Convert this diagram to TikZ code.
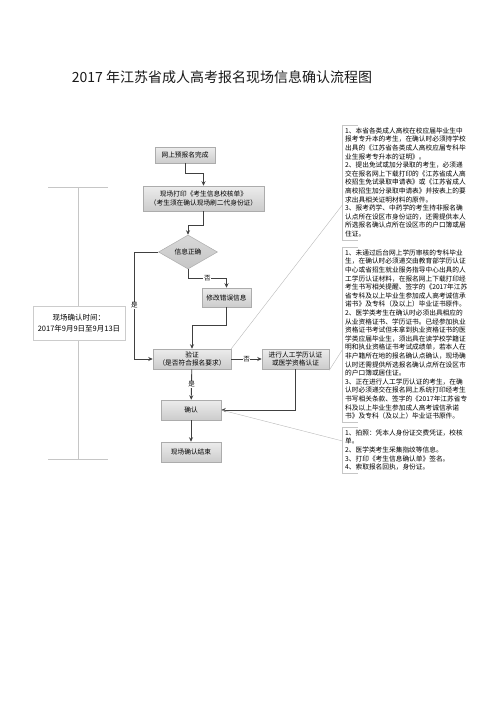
\documentclass[tikz,border=0pt]{standalone}
\usepackage{fontspec}
\setmainfont{Noto Sans CJK SC}
\usetikzlibrary{arrows.meta,positioning,shapes.geometric,shadows,calc}

\begin{document}
\begin{tikzpicture}[
    x = 1pt, y = -1pt, % one unit = one pixel, y goes down
    > = {Stealth[length=4.5pt,width=4pt]}, % arrow head style
    flow/.style = {->, draw = black!75, line width = 0.9pt},
    font = \fontsize{6.7}{8.4}\selectfont
    ]
\tikzset{
    proc/.style = {rectangle, draw = gray!65, line width = 0.5pt,
        top color = gray!15, bottom color = gray!40,
        drop shadow = {shadow xshift = 1pt, shadow yshift = -1pt, opacity = 0.3},
        align = center, inner sep = 1pt},
    decision/.style = {diamond, draw = gray!65, line width = 0.5pt,
        top color = gray!30, bottom color = gray!45,
        minimum width = 59pt, minimum height = 34pt, inner sep = 0pt},
    lbl/.style = {fill = white, inner sep = 0.6pt, font = \fontsize{6.5}{7}\selectfont},
    note/.style = {anchor = north west, align = left, inner xsep = 3pt, inner ysep = 2.5pt,
        font = \fontsize{6.7}{8.6}\selectfont},
    bracket/.style = {draw = gray!45, line width = 0.5pt},
    leader/.style = {draw = gray!55, line width = 0.4pt}
    }

    \useasboundingbox (0,0) rectangle (496,702);

    \node[font = \fontsize{14}{16}\selectfont, text = black!90] (title) at (222,77)
        {2017 年江苏省成人高考报名现场信息确认流程图};

    % flow chart
    \node[proc, minimum width = 60pt, minimum height = 16pt] (pre) at (185,155) {网上预报名完成};
    \node[proc, minimum width = 121pt, minimum height = 25pt] (print) at (203.5,198.5)
        {现场打印《考生信息校核单》\\（考生须在确认现场刷二代身份证）};
    \node[decision] (check) at (188,252) {信息正确};
    \node[proc, minimum width = 49pt, minimum height = 19pt] (fix) at (226.5,297.5) {修改错误信息};
    \node[proc, minimum width = 78pt, minimum height = 20pt] (verify) at (192,359)
        {验证\\（是否符合报名要求）};
    \node[proc, minimum width = 67pt, minimum height = 20pt] (manual) at (295.5,359)
        {进行人工学历认证\\或医学资格认证};
    \node[proc, minimum width = 60pt, minimum height = 20pt] (confirm) at (191,410) {确认};
    \node[proc, minimum width = 60pt, minimum height = 20pt] (finish) at (191,452) {现场确认结束};

    \draw[flow] (pre.south) -- ++(0,10) -| (print.north);
    \draw[flow] (print.south) -- ++(0,14) -| (check.north);
    \draw[flow] (check.south) -- ++(0,9) -| node[lbl, pos = 0.25] {否} (fix.north);
    \draw[flow] (fix.south) -- ++(0,18) -| (verify.north);
    \draw[flow] (check.west) -- ++(-24,0) |- node[lbl, pos = 0.25] {是} (verify.west);
    \draw[flow] (verify) -- node[lbl] {否} (manual);
    \draw[flow] (verify) -- node[lbl] {是} (confirm);
    \draw[flow] (manual.south) |- (confirm.east);
    \draw[flow] (confirm) -- (finish);

    % time span on the left
    \coordinate (brtop) at (78,187);
    \coordinate (brbot) at (78,459);
    \draw[bracket] ([xshift = -30pt]brtop) -- ([xshift = 30pt]brtop);
    \draw[bracket] ([xshift = -30pt]brbot) -- ([xshift = 30pt]brbot);
    \draw[bracket] (brtop) -- (brbot);
    \node[rectangle, draw = gray!40, fill = white, line width = 0.5pt,
        drop shadow = {shadow xshift = 1pt, shadow yshift = -1.2pt, opacity = 0.25},
        minimum width = 92pt, minimum height = 34pt, align = center,
        font = \fontsize{7.5}{11}\selectfont] (time) at (79,323)
        {现场确认时间：\\2017年9月9日至9月13日};

    % notes on the right
    \node[note] (noteA) at (342,125) {%
        1、本省各类成人高校在校应届毕业生中\\
        报考专升本的考生，在确认时必须持学校\\
        出具的《江苏省各类成人高校应届专科毕\\
        业生报考专升本的证明》。\\
        2、提出免试或加分录取的考生，必须递\\
        交在报名网上下载打印的《江苏省成人高\\
        校招生免试录取申请表》或《江苏省成人\\
        高校招生加分录取申请表》并按表上的要\\
        求出具相关证明材料的原件。\\
        3、报考药学、中药学的考生持非报名确\\
        认点所在设区市身份证的，还需提供本人\\
        所选报名确认点所在设区市的户口簿或居\\
        住证。};
    \node[note] (noteB) at (342,247) {%
        1、未通过后台网上学历审核的专科毕业\\
        生，在确认时必须递交由教育部学历认证\\
        中心或省招生就业服务指导中心出具的人\\
        工学历认证材料，在报名网上下载打印经\\
        考生书写相关提醒、签字的《2017年江苏\\
        省专科及以上毕业生参加成人高考诚信承\\
        诺书》及专科（及以上）毕业证书原件。\\
        2、医学类考生在确认时必须出具相应的\\
        从业资格证书、学历证书。已经参加执业\\
        资格证书考试但未拿到执业资格证书的医\\
        学类应届毕业生，须出具在读学校学籍证\\
        明和执业资格证书考试成绩单，若本人在\\
        非户籍所在地的报名确认点确认，现场确\\
        认时还需提供所选报名确认点所在设区市\\
        的户口簿或居住证。\\
        3、正在进行人工学历认证的考生，在确\\
        认时必须递交在报名网上系统打印经考生\\
        书写相关条款、签字的《2017年江苏省专\\
        科及以上毕业生参加成人高考诚信承诺\\
        书》及专科（及以上）毕业证书原件。};
    \node[note] (noteC) at (342,427) {%
        1、拍照：凭本人身份证交费凭证，校核\\
        单。\\
        2、医学类考生采集指纹等信息。\\
        3、打印《考生信息确认单》签名。\\
        4、索取报名回执，身份证。};

    \foreach \n in {noteA, noteB, noteC}
        \draw[bracket] ([xshift = 16pt]\n.north west) -- (\n.north west)
            -- (\n.south west) -- ([xshift = 16pt]\n.south west);

    \draw[leader] ($(noteA.north west)!0.7!(noteA.south west)$) -- (verify.north east);
    \draw[leader] ($(noteB.north west)!0.59!(noteB.south west)$) -- ([yshift = -1pt]manual.south east);
    \draw[leader] ($(noteC.north west)!0.3!(noteC.south west)$) -- (confirm.east);
\end{tikzpicture}
\end{document}
